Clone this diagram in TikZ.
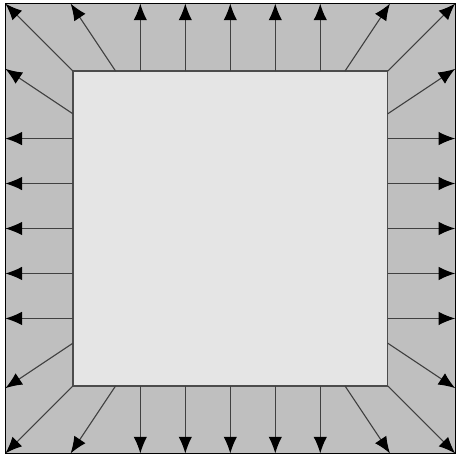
\documentclass[tikz,border=0pt]{standalone}
\usepackage{xcolor}
\usepackage{tikz}
\usetikzlibrary{arrows.meta}

\definecolor{outergray}{gray}{0.75}
\definecolor{innergray}{gray}{0.9}

\begin{document}
\begin{tikzpicture}[
    outerbox/.style={fill=outergray,draw=black,line width=0.8pt},
    innerbox/.style={fill=innergray,draw=black!70,line width=0.9pt},
    flux/.style={-{Latex[length=3.7mm,width=3mm,black]},draw=black!75,line width=0.7pt}
    ]

    \useasboundingbox (-5.12,-5.08) rectangle (5.02,5.08);

    \draw[outerbox] (-5,-5) rectangle (5,5);
    \draw[innerbox] (-3.5,-3.5) rectangle (3.5,3.5);

    % straight arrows on each side
    \foreach \p in {-2,...,2} {
      \draw[flux] (\p,3.5) -- (\p,5);
      \draw[flux] (\p,-3.5) -- (\p,-5);
      \draw[flux] (3.5,\p) -- (5,\p);
      \draw[flux] (-3.5,\p) -- (-5,\p);
    }

    % slanted arrows near the corners
    \foreach \sx in {-1,1} {
      \foreach \sy in {-1,1} {
        \draw[flux] (\sx*2.55,\sy*3.5) -- (\sx*3.55,\sy*5);
        \draw[flux] (\sx*3.5,\sy*2.55) -- (\sx*5,\sy*3.55);
        \draw[flux] (\sx*3.5,\sy*3.5) -- (\sx*5,\sy*5);
      }
    }

    \draw[black,line width=0.8pt] (-5,-5) rectangle (5,5);

  \end{tikzpicture}
\end{document}
